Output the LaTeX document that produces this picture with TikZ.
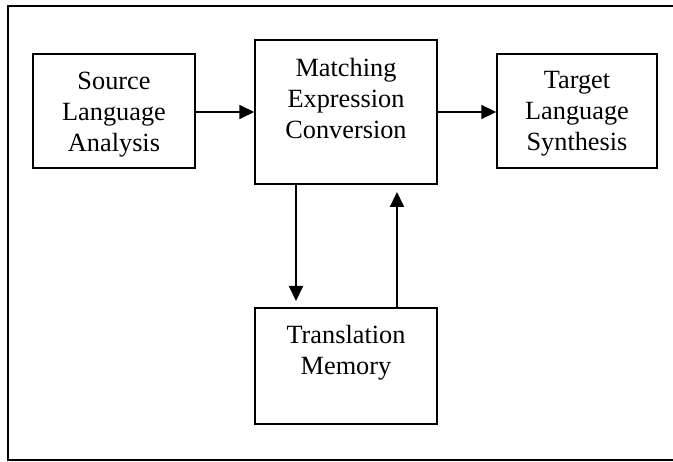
\documentclass[tikz,border=0pt]{standalone}
\usepackage{fontspec}
\setmainfont{Liberation Serif}
\usetikzlibrary{arrows.meta}
\begin{document}
\begin{tikzpicture}[x=1pt,y=-1pt,
  box/.style={draw, line width=1.5pt, inner sep=0pt},
  lbl/.style={align=center, inner sep=0pt, anchor=north,
    font=\fontsize{26.3}{31}\selectfont},
  arr/.style={line width=2pt, -{Triangle[length=15pt,width=14pt]}},
  frame/.style={line width=2pt}]
  \useasboundingbox (0,0) rectangle (673,462);
  % surrounding frame, open on the right
  \draw[frame] (673,6) -- (8,6) -- (8,460.5) -- (673,460.5);

  % blocks
  \node[box, minimum width=162pt, minimum height=114pt] (src) at (114,111) {};
  \node[box, minimum width=182pt, minimum height=144pt] (mec) at (346,112) {};
  \node[box, minimum width=160pt, minimum height=114pt] (tgt) at (577,111) {};
  \node[box, minimum width=182pt, minimum height=116pt] (mem) at (346,366) {};

  % block texts
  \node[lbl] (srctxt) at (114,71.5) {Source\\Language\\Analysis};
  \node[lbl] (mectxt) at (346,58.5) {Matching\\Expression\\Conversion};
  \node[lbl] (tgttxt) at (577,71.5) {Target\\Language\\Synthesis};
  \node[lbl] (memtxt) at (346,325.5) {Translation\\Memory};

  % connectors
  \coordinate (dtip) at (296,301);
  \coordinate (utip) at (397,192);
  \draw[arr] (src.east |- mec.west) -- (mec.west);
  \draw[arr] (mec.east) -- (tgt.west |- mec.east);
  \draw[arr] (mec.south -| dtip) -- (dtip);
  \draw[arr] (mem.north -| utip) -- (utip);
\end{tikzpicture}
\end{document}
